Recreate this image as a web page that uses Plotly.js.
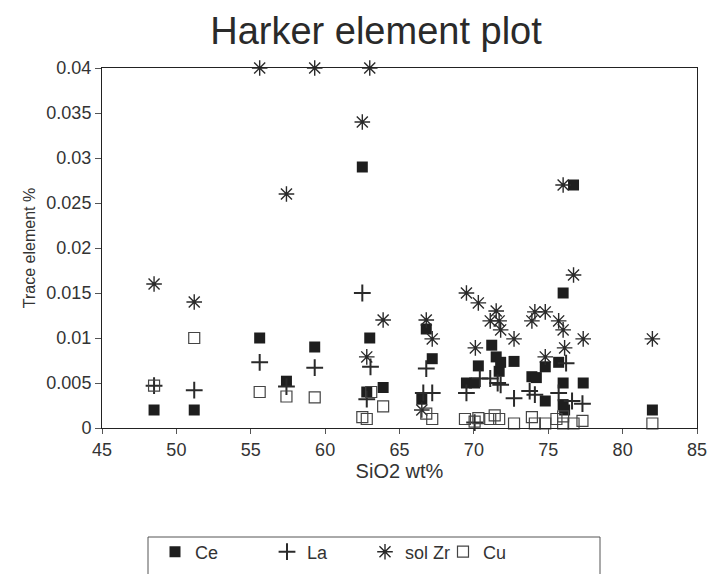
<!DOCTYPE html>
<html><head><meta charset="utf-8">
<script src="https://cdn.plot.ly/plotly-3.0.1.min.js"></script>
<style>html,body{margin:0;padding:0;background:#fff;}#chart{width:708px;height:574px;}</style>
</head><body><div id="chart"></div>
<script>
// SiO2 wt% and trace element % per series
const ceX = [48.5,51.2,55.6,57.4,59.3,62.5,62.8,63.0,63.9,66.5,66.8,67.2,69.5,70.05,70.3,71.2,71.5,71.7,71.8,72.7,73.9,74.2,74.8,74.8,75.7,76.0,76.0,76.0,76.1,76.7,77.35,82.0];
const ceY = [0.002,0.002,0.01,0.0052,0.009,0.029,0.004,0.01,0.0045,0.0032,0.011,0.0077,0.005,0.005,0.0069,0.0092,0.0079,0.0063,0.0073,0.0074,0.0057,0.0056,0.0068,0.003,0.0073,0.015,0.005,0.0026,0.002,0.027,0.005,0.002];
const laX = [48.5,51.2,55.6,57.4,59.3,62.5,62.8,63.05,66.6,66.8,67.2,69.5,70.05,70.4,71.1,71.6,71.8,72.7,73.75,74.1,75.7,76.2,76.6,77.3];
const laY = [0.0047,0.0042,0.0073,0.0046,0.0067,0.015,0.0032,0.0068,0.0039,0.0066,0.0039,0.0039,0.0006,0.0055,0.0055,0.005,0.0048,0.0033,0.0041,0.0037,0.0039,0.0072,0.003,0.0027];
const zrX = [48.5,51.2,55.6,57.4,59.3,62.5,62.8,63.0,63.9,66.5,66.8,67.2,69.5,70.1,70.3,71.1,71.5,71.7,71.8,72.7,73.9,74.1,74.8,74.8,75.7,76.0,76.0,76.1,76.7,77.35,82.0];
const zrY = [0.016,0.014,0.04,0.026,0.04,0.034,0.0079,0.04,0.012,0.002,0.012,0.0099,0.015,0.0089,0.0139,0.0119,0.013,0.0119,0.0109,0.0099,0.0119,0.0129,0.0129,0.0079,0.0119,0.027,0.0109,0.0089,0.017,0.0099,0.0099];
const cuX = [48.5,51.2,55.6,57.4,59.3,62.5,62.8,63.1,63.9,66.8,67.2,69.4,70.05,70.3,71.1,71.4,71.7,72.7,73.9,74.1,74.8,75.55,76.0,76.0,76.7,77.3,82.0];
const cuY = [0.0047,0.01,0.004,0.0035,0.0034,0.0012,0.001,0.004,0.0024,0.0016,0.001,0.001,0.0007,0.0011,0.001,0.0014,0.001,0.0005,0.0012,0.0005,0.0005,0.001,0.0013,0.0005,0.0005,0.0008,0.0005];
const seriesNames = ['Ce','La','sol Zr','Cu'];

const traces = [
  {x: ceX, y: ceY, name: seriesNames[0], legend:'legend', type:'scatter', mode:'markers', cliponaxis:false,
   marker:{symbol:'square', size:11, color:'#1e1e1e', line:{width:0}}},
  {x: laX, y: laY, name: seriesNames[1], legend:'legend2', type:'scatter', mode:'markers', cliponaxis:false,
   marker:{symbol:'cross-thin-open', size:12, color:'#2a2a2a', line:{width:2, color:'#2a2a2a'}}},
  {x: zrX, y: zrY, name: seriesNames[2], legend:'legend3', type:'scatter', mode:'markers', cliponaxis:false,
   marker:{symbol:'asterisk-open', size:13, color:'#2a2a2a', line:{width:1.4, color:'#2a2a2a'}}},
  {x: cuX, y: cuY, name: seriesNames[3], legend:'legend4', type:'scatter', mode:'markers', cliponaxis:false,
   marker:{symbol:'square-open', size:11, color:'#444', line:{width:1.2, color:'#444'}}}
];

function leg(px) {
  return {orientation:'h', xref:'container', yref:'container', x:px/708, xanchor:'left',
          y:(574-552)/574, yanchor:'middle', bgcolor:'rgba(0,0,0,0)', borderwidth:0,
          font:{size:18, color:'#333'}, itemclick:false};
}

const layout = {
  width: 708, height: 574,
  margin: {l:102, r:11, t:68, b:146},
  paper_bgcolor:'#fff', plot_bgcolor:'#fff',
  font: {family:'"Liberation Sans", Arial, sans-serif', color:'#333', size:18},
  title: {text:'Harker element plot', xref:'container', x:376/708, xanchor:'center',
          yref:'container', y:1-31/574, yanchor:'middle',
          font:{size:38, color:'#2a2a2a'}},
  xaxis: {range:[45,85], dtick:5, tick0:45, showgrid:false, zeroline:false,
          showline:true, linecolor:'#222', linewidth:1, mirror:true,
          ticks:'outside', ticklen:5, tickcolor:'#555', tickfont:{size:18},
          title:{text:'SiO2 wt%', font:{size:20}, standoff:2}},
  yaxis: {range:[0,0.04], dtick:0.005, tick0:0, showgrid:false, zeroline:false,
          showline:true, linecolor:'#222', linewidth:1, mirror:true,
          ticks:'outside', ticklen:6, tickcolor:'#555', tickfont:{size:18},
          title:{text:'Trace element %', font:{size:16}, standoff:6}},
  showlegend: true,
  legend: leg(155),
  legend2: leg(267),
  legend3: leg(365),
  legend4: leg(443),
  shapes: [
    {type:'rect', xref:'paper', yref:'paper', x0:(148-102)/595, x1:(600-102)/595,
     y0:(428-590)/360, y1:(428-537)/360, line:{color:'#555', width:1}, fillcolor:'rgba(0,0,0,0)'}
  ]
};

Plotly.newPlot('chart', traces, layout, {displayModeBar:false, staticPlot:true});
</script>
</body></html>
